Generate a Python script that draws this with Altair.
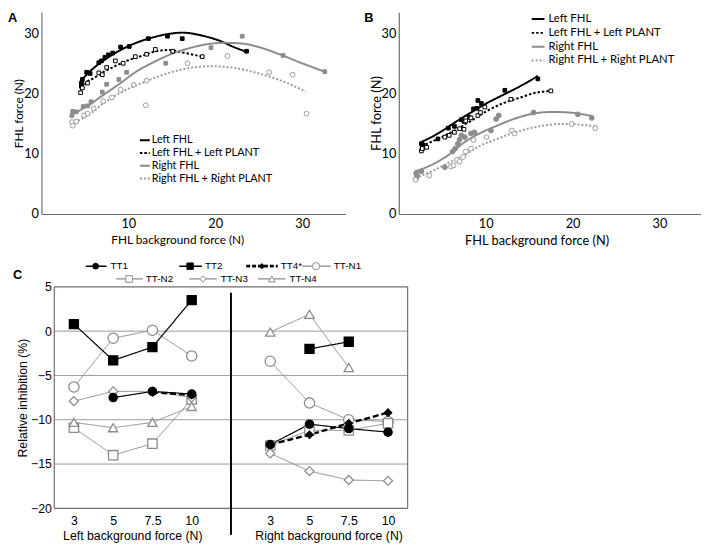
import altair as alt
import pandas as pd

# ---------------- Panel A: scatter data ----------------
A_LF_x = [4.6, 4.6, 4.7, 5.2, 5.6, 6.6, 6.9, 7.3, 7.7, 8.2, 9.1, 10.1, 12.3, 14.5, 16.2, 23.6]
A_LF_y = [21.3, 21.8, 22.4, 23.6, 23.4, 25.2, 25.5, 26.1, 26.5, 26.8, 27.8, 27.9, 29.2, 29.6, 29.2, 27.1]
A_LFP_x = [4.5, 4.7, 5.3, 6.6, 7.0, 7.5, 8.5, 9.4, 10.8, 12.1, 13.1, 15.1, 18.5]
A_LFP_y = [20.2, 21.0, 21.8, 23.5, 23.2, 24.4, 25.5, 25.1, 26.2, 26.6, 27.4, 27.1, 26.2]
A_RF_x = [3.5, 3.6, 4.0, 4.8, 5.3, 5.7, 7.0, 7.5, 8.9, 9.8, 14.3, 19.5, 23.1, 27.8, 32.6]
A_RF_y = [16.4, 17.1, 17.0, 17.9, 18.0, 18.7, 20.3, 21.6, 22.4, 23.6, 25.1, 27.7, 29.6, 26.4, 23.7]
A_RFP_x = [3.5, 3.6, 4.0, 4.9, 5.3, 6.0, 7.1, 8.1, 9.1, 10.6, 12.1, 12.0, 16.8, 21.4, 26.2, 28.9, 30.5]
A_RFP_y = [15.3, 14.7, 15.4, 16.4, 16.7, 17.6, 18.8, 19.4, 20.7, 21.5, 22.2, 18.1, 25.1, 26.3, 23.6, 23.2, 16.7]

# ---------------- Panel A: fitted curves ----------------
A_LF_cx = [4.45, 4.7, 5.2, 6.0, 7.2, 9.1, 10.9, 12.8, 14.7, 16.2, 18.5, 20.4, 22.3, 23.6]
A_LF_cy = [20.9, 22.2, 23.2, 24.3, 25.6, 27.3, 28.5, 29.4, 30.0, 30.2, 29.7, 28.9, 27.7, 27.0]
A_LFP_cx = [4.45, 5.1, 6.0, 7.2, 8.3, 9.8, 11.7, 13.2, 14.7, 16.2, 18.5]
A_LFP_cy = [20.2, 21.8, 22.6, 23.7, 24.5, 25.5, 26.4, 27.1, 27.3, 26.9, 26.2]
A_RF_cx = [3.4, 5.3, 7.2, 9.1, 10.9, 12.8, 14.7, 17.0, 19.2, 21.0, 23.0, 25.0, 27.2, 29.8, 32.6]
A_RF_cy = [16.5, 18.0, 19.9, 21.8, 23.7, 25.2, 26.5, 27.6, 28.3, 28.5, 28.4, 27.8, 26.7, 25.2, 23.7]
A_RFP_cx = [3.4, 5.3, 7.2, 9.1, 11.7, 14.7, 17.0, 19.6, 22.3, 24.5, 27.2, 30.4]
A_RFP_cy = [15.0, 16.4, 18.5, 20.2, 21.9, 23.5, 24.3, 24.6, 24.3, 23.6, 22.4, 20.4]

# ---------------- Panel B: scatter data ----------------
B_LF_x = [2.6, 2.8, 2.7, 4.5, 5.7, 6.4, 7.2, 7.5, 8.1, 8.6, 9.0, 9.1, 9.5, 12.2, 16.0]
B_LF_y = [11.7, 11.5, 10.9, 12.5, 14.3, 14.6, 15.7, 15.4, 16.1, 17.5, 17.6, 18.9, 18.4, 20.6, 22.5]
B_LFP_x = [2.6, 2.7, 3.2, 5.3, 5.8, 6.4, 7.0, 7.5, 7.7, 8.3, 9.1, 9.4, 9.9, 12.9, 17.5]
B_LFP_y = [10.5, 10.9, 11.1, 12.8, 13.1, 13.6, 14.2, 14.1, 15.5, 16.0, 16.4, 16.9, 17.8, 19.1, 20.5]
B_RF_x = [2.0, 2.1, 2.0, 2.6, 5.3, 6.2, 6.5, 6.8, 7.0, 7.2, 7.6, 8.3, 8.7, 10.6, 11.2, 11.5, 15.5, 20.6, 22.2]
B_RF_y = [6.8, 6.4, 5.9, 7.1, 7.8, 10.4, 10.9, 11.7, 12.4, 13.1, 12.8, 13.4, 13.6, 13.9, 15.8, 16.4, 16.9, 16.6, 16.0]
B_RFP_x = [1.9, 3.5, 6.0, 6.3, 6.7, 7.0, 7.4, 7.7, 8.3, 8.6, 10.1, 13.0, 13.3, 19.9, 22.6]
B_RFP_y = [5.7, 6.4, 7.9, 8.1, 9.0, 8.7, 9.5, 10.4, 10.9, 12.3, 12.8, 13.9, 13.4, 15.0, 14.3]

# ---------------- Panel B: fitted curves ----------------
B_LF_cx = [2.6, 4.5, 6.4, 8.3, 10.2, 12.1, 14.0, 16.0]
B_LF_cy = [12.0, 13.4, 15.2, 16.9, 18.5, 19.9, 21.3, 23.0]
B_LFP_cx = [2.6, 4.5, 6.4, 8.3, 10.2, 12.1, 14.0, 15.8, 17.5]
B_LFP_cy = [11.3, 12.5, 13.9, 15.5, 17.2, 18.5, 19.4, 20.2, 20.5]
B_RF_cx = [1.9, 3.8, 5.7, 7.5, 9.4, 11.3, 13.2, 15.1, 17.7, 19.6, 22.3]
B_RF_cy = [7.1, 8.2, 9.8, 11.9, 13.5, 14.7, 15.8, 16.6, 17.0, 16.9, 16.3]
B_RFP_cx = [1.9, 3.8, 5.7, 7.5, 9.4, 11.3, 13.2, 15.8, 18.9, 21.5, 22.6]
B_RFP_cy = [6.0, 7.1, 8.5, 9.8, 11.4, 12.5, 13.5, 14.5, 15.0, 14.8, 14.6]

AB_NAMES = ["Left FHL", "Left FHL + Left PLANT", "Right FHL", "Right FHL + Right PLANT"]

# ---------------- Panel C data ----------------
C_LEVELS = ["3", "5", "7.5", "10"]
C_SERIES = ["TT1", "TT2", "TT4*", "TT-N1", "TT-N2", "TT-N3", "TT-N4"]
C_LEFT = {
    "TT1":   [None, -7.5, -6.8, -7.1],
    "TT2":   [0.8, -3.3, -1.8, 3.5],
    "TT4*":  [None, None, -6.9, -7.2],
    "TT-N1": [-6.3, -0.8, 0.1, -2.8],
    "TT-N2": [-10.9, -14.0, -12.7, -7.7],
    "TT-N3": [-7.9, -6.8, -6.8, -7.5],
    "TT-N4": [-10.3, -10.9, -10.3, -8.5],
}
C_RIGHT = {
    "TT1":   [-12.8, -10.5, -11.0, -11.4],
    "TT2":   [None, -2.0, -1.2, None],
    "TT4*":  [-12.8, -11.7, -10.4, -9.2],
    "TT-N1": [-3.4, -8.1, -10.0, -10.2],
    "TT-N2": [-12.9, -11.2, -11.2, -10.4],
    "TT-N3": [-13.8, -15.8, -16.8, -16.9],
    "TT-N4": [-0.1, 1.9, -4.1, None],
}
C_YTICKS = [5, 0, -5, -10, -15, -20]
C_GRID = [0, -5, -10, -15]

# ---------------- styling ----------------
FONT_AB = "Lato"
FONT_C = "Liberation Sans"
BLACK = "#000000"
GRAY = "#8c8c8c"
GRAYL = "#9a9a9a"
AXC = "#6e6e6e"
DUMMY = pd.DataFrame({"a": [0]})


def ab_panel(series, xdom, ydom, w, h, leg, label, label_dx, fs_title, title_x):
    xe = alt.X("x:Q", scale=alt.Scale(domain=xdom, nice=False, zero=False),
               axis=alt.Axis(values=[10, 20, 30], title="FHL background force (N)", grid=False,
                             ticks=False, domainColor=AXC, domainWidth=1.2, labelFont=FONT_AB,
                             labelFontSize=13, labelColor="black", labelPadding=4,
                             titleFont=FONT_AB, titleFontSize=fs_title, titleFontWeight="normal",
                             titlePadding=4, titleColor="black", titleX=title_x))
    ye = alt.Y("y:Q", scale=alt.Scale(domain=ydom, nice=False, zero=False),
               axis=alt.Axis(values=[0, 10, 20, 30], title="FHL force (N)", grid=False,
                             ticks=False, domainColor=AXC, domainWidth=1.2, labelFont=FONT_AB,
                             labelFontSize=13, labelColor="black", labelPadding=3,
                             titleFont=FONT_AB, titleFontSize=fs_title, titleFontWeight="normal",
                             titlePadding=-2, titleColor="black"))
    layers = []
    for s in series:
        cdf = pd.DataFrame({"x": s["cx"], "y": s["cy"], "o": list(range(len(s["cx"])))})
        layers.append(alt.Chart(cdf).mark_line(color=s["color"], strokeWidth=2,
                                               strokeDash=s["dash"], interpolate="monotone")
                      .encode(x=xe, y=ye, order="o:Q"))
    for s in series:
        pdf = pd.DataFrame({"x": s["px"], "y": s["py"]})
        layers.append(alt.Chart(pdf).mark_point(shape=s["shape"], size=s["size"],
                                                fill=s["color"] if s["filled"] else "white",
                                                stroke=s["color"], strokeWidth=1,
                                                opacity=1, fillOpacity=1)
                      .encode(x=xe, y=ye))
    # legend
    lx0, lx1, tx, rows, fs = leg
    for s, yy in zip(series, rows):
        layers.append(alt.Chart(DUMMY).mark_rule(color=s["color"], strokeWidth=2,
                                                 strokeDash=s["dash"])
                      .encode(x=alt.value(lx0), x2=alt.value(lx1), y=alt.value(yy)))
        layers.append(alt.Chart(DUMMY).mark_text(text=s["name"], align="left", baseline="middle",
                                                 font=FONT_AB, fontSize=fs, color="black")
                      .encode(x=alt.value(tx), y=alt.value(yy)))
    layers.append(alt.Chart(DUMMY).mark_text(text=label, align="left", baseline="top",
                                             font=FONT_C, fontSize=13, fontWeight="bold",
                                             color="black")
                  .encode(x=alt.value(label_dx), y=alt.value(0)))
    return alt.layer(*layers).properties(width=w, height=h)


A_series = [
    dict(name=AB_NAMES[0], px=A_LF_x, py=A_LF_y, cx=A_LF_cx, cy=A_LF_cy, color=BLACK,
         dash=[1, 0], shape="square", filled=True, size=14),
    dict(name=AB_NAMES[1], px=A_LFP_x, py=A_LFP_y, cx=A_LFP_cx, cy=A_LFP_cy, color=BLACK,
         dash=[2.5, 2], shape="square", filled=False, size=14),
    dict(name=AB_NAMES[2], px=A_RF_x, py=A_RF_y, cx=A_RF_cx, cy=A_RF_cy, color=GRAY,
         dash=[1, 0], shape="square", filled=True, size=14),
    dict(name=AB_NAMES[3], px=A_RFP_x, py=A_RFP_y, cx=A_RFP_cx, cy=A_RFP_cy, color=GRAYL,
         dash=[2, 2], shape="circle", filled=False, size=24),
]
B_series = [
    dict(name=AB_NAMES[0], px=B_LF_x, py=B_LF_y, cx=B_LF_cx, cy=B_LF_cy, color=BLACK,
         dash=[1, 0], shape="square", filled=True, size=14),
    dict(name=AB_NAMES[1], px=B_LFP_x, py=B_LFP_y, cx=B_LFP_cx, cy=B_LFP_cy, color=BLACK,
         dash=[2.5, 2], shape="square", filled=False, size=14),
    dict(name=AB_NAMES[2], px=B_RF_x, py=B_RF_y, cx=B_RF_cx, cy=B_RF_cy, color=GRAY,
         dash=[1, 0], shape="circle", filled=True, size=24),
    dict(name=AB_NAMES[3], px=B_RFP_x, py=B_RFP_y, cx=B_RFP_cx, cy=B_RFP_cy, color=GRAYL,
         dash=[2, 2], shape="circle", filled=False, size=24),
]

W_AB, H_AB = 309, 205
PX_PER_UNIT = W_AB / 35.0
W_B = 307
panelA = ab_panel(A_series, [0, 35], [0, 33.6], W_AB, H_AB,
                  (100, 110, 112, [130, 143, 156, 169], 11), "A", -34, 12, 138)
panelB = ab_panel(B_series, [0, W_B / PX_PER_UNIT], [0, 33.6], W_B, H_AB,
                  (135, 148, 152, [7, 21, 35, 49], 11.5), "B", -35, 13, 140)

# ---------------- Panel C ----------------
OFF = 13                 # frame of C starts this far right of panel A's y axis
FRAME_W, H_C = 359, 225
W_C = FRAME_W + OFF
XMIN, XMAX = -0.5, 8.5
x_lo = XMIN - OFF * (XMAX - XMIN) / FRAME_W
LEFT_POS = [0, 1, 2, 3]
RIGHT_POS = [5, 6, 7, 8]
label_js = "[" + ",".join("'" + v + "'" for v in C_LEVELS + [""] + C_LEVELS) + "]"

xC = alt.X("pos:Q", scale=alt.Scale(domain=[x_lo, XMAX], range=[0, W_C], nice=False, zero=False),
           axis=alt.Axis(values=LEFT_POS + RIGHT_POS, labelExpr=label_js + "[datum.value]",
                         title=None, grid=False, ticks=False, domain=False, labelFont=FONT_C,
                         labelFontSize=12.5, labelColor="black", labelPadding=6))
yC = alt.Y("val:Q", scale=alt.Scale(domain=[-20, 5], nice=False, zero=False),
           axis=alt.Axis(values=C_YTICKS, title="Relative inhibition (%)", offset=-OFF,
                         grid=False, ticks=False, domain=False, labelFont=FONT_C,
                         labelFontSize=12.5, labelColor="black", labelPadding=3,
                         titleFont=FONT_C, titleFontSize=12.5, titleFontWeight="normal",
                         titleColor="black", titlePadding=1))

C_STYLE = {
    "TT1":   dict(color=BLACK, shape="circle", filled=True, size=70, lw=1.2, dash=[1, 0]),
    "TT2":   dict(color=BLACK, shape="square", filled=True, size=85, lw=1.2, dash=[1, 0]),
    "TT4*":  dict(color=BLACK, shape="diamond", filled=True, size=55, lw=2.4, dash=[6, 3]),
    "TT-N1": dict(color=GRAY, shape="circle", filled=False, size=110, lw=1, dash=[1, 0]),
    "TT-N2": dict(color=GRAY, shape="square", filled=False, size=90, lw=1, dash=[1, 0]),
    "TT-N3": dict(color=GRAY, shape="diamond", filled=False, size=85, lw=1, dash=[1, 0]),
    "TT-N4": dict(color=GRAY, shape="triangle-up", filled=False, size=90, lw=1, dash=[1, 0]),
}

c_layers = []
# grid lines and frame
c_layers.append(alt.Chart(pd.DataFrame({"val": C_GRID, "pos": XMIN, "pos2": XMAX}))
                .mark_rule(color="#9a9a9a", strokeWidth=1)
                .encode(x=xC, x2="pos2:Q", y=yC))
c_layers.append(alt.Chart(pd.DataFrame({"val": [C_YTICKS[0], C_YTICKS[-1]],
                                        "pos": XMIN, "pos2": XMAX}))
                .mark_rule(color=AXC, strokeWidth=1.2)
                .encode(x=xC, x2="pos2:Q", y=yC))
c_layers.append(alt.Chart(pd.DataFrame({"pos": [XMIN, XMAX], "val": C_YTICKS[0],
                                        "val2": C_YTICKS[-1]}))
                .mark_rule(color=AXC, strokeWidth=1.2)
                .encode(x=xC, y=yC, y2="val2:Q"))

draw_order = ["TT-N1", "TT-N2", "TT-N3", "TT-N4", "TT1", "TT2", "TT4*"]
for name in draw_order:
    st = C_STYLE[name]
    for pos, vals in ((LEFT_POS, C_LEFT[name]), (RIGHT_POS, C_RIGHT[name])):
        rows = [(p, v) for p, v in zip(pos, vals) if v is not None]
        df = pd.DataFrame(rows, columns=["pos", "val"])
        c_layers.append(alt.Chart(df).mark_line(color=st["color"], strokeWidth=st["lw"],
                                                strokeDash=st["dash"])
                        .encode(x=xC, y=yC))
for name in draw_order:
    st = C_STYLE[name]
    for pos, vals in ((LEFT_POS, C_LEFT[name]), (RIGHT_POS, C_RIGHT[name])):
        rows = [(p, v) for p, v in zip(pos, vals) if v is not None]
        df = pd.DataFrame(rows, columns=["pos", "val"])
        c_layers.append(alt.Chart(df).mark_point(shape=st["shape"], size=st["size"],
                                                 fill=st["color"] if st["filled"] else "white",
                                                 stroke=st["color"], strokeWidth=1.3,
                                                 opacity=1, fillOpacity=1)
                        .encode(x=xC, y=yC))

# divider between left and right halves
c_layers.append(alt.Chart(pd.DataFrame({"pos": [4]})).mark_rule(color="black", strokeWidth=2)
                .encode(x=xC, y=alt.value(6), y2=alt.value(252)))
# x titles for each half
c_layers.append(alt.Chart(pd.DataFrame({"pos": [1.5, 6.5],
                                        "t": ["Left background force (N)",
                                              "Right background force (N)"]}))
                .mark_text(font=FONT_C, fontSize=12.5, color="black", baseline="middle")
                .encode(x=xC, y=alt.value(253), text="t:N"))

# legend for C (pixel offsets relative to the frame's left edge)
C_LEG = {
    "TT1": (-21, 32, 53, 42, 57), "TT2": (-21, 127, 150, 138, 153),
    "TT4*": (-21, 195, 227, 211, 230), "TT-N1": (-21, 252, 281, 266, 284),
    "TT-N2": (-8, 63, 90, 76, 93), "TT-N3": (-8, 137, 165, 151, 169),
    "TT-N4": (-8, 207, 235, 221, 239),
}
for name in C_SERIES:
    st = C_STYLE[name]
    yy, x0, x1, mx, tx = C_LEG[name]
    c_layers.append(alt.Chart(DUMMY).mark_rule(color=st["color"], strokeWidth=st["lw"] + 0.3,
                                               strokeDash=[4, 2] if name == "TT4*" else [1, 0])
                    .encode(x=alt.value(x0 + OFF), x2=alt.value(x1 + OFF), y=alt.value(yy)))
    c_layers.append(alt.Chart(DUMMY).mark_point(shape=st["shape"], size=st["size"] * 0.5,
                                                fill=st["color"] if st["filled"] else "white",
                                                stroke=st["color"], strokeWidth=1,
                                                opacity=1, fillOpacity=1)
                    .encode(x=alt.value(mx + OFF), y=alt.value(yy)))
    c_layers.append(alt.Chart(DUMMY).mark_text(text=name, align="left", baseline="middle",
                                               font=FONT_C, fontSize=10, color="black")
                    .encode(x=alt.value(tx + OFF), y=alt.value(yy)))
c_layers.append(alt.Chart(DUMMY).mark_text(text="C", align="left", baseline="middle",
                                           font=FONT_C, fontSize=13, fontWeight="bold",
                                           color="black")
                .encode(x=alt.value(-42 + OFF), y=alt.value(-12)))

# layout width equals panel A's so that panel B is not pushed right
panelC = alt.layer(*c_layers).properties(width=W_AB, height=H_C)

chart = alt.concat(panelA, panelB, panelC, columns=2, bounds="flush", align="none",
                   spacing={"row": 74, "column": 54}).properties(
    padding=0, background="white"
).configure_view(stroke=None)

chart.save("out.html", embed_options={"renderer": "svg", "actions": False})
